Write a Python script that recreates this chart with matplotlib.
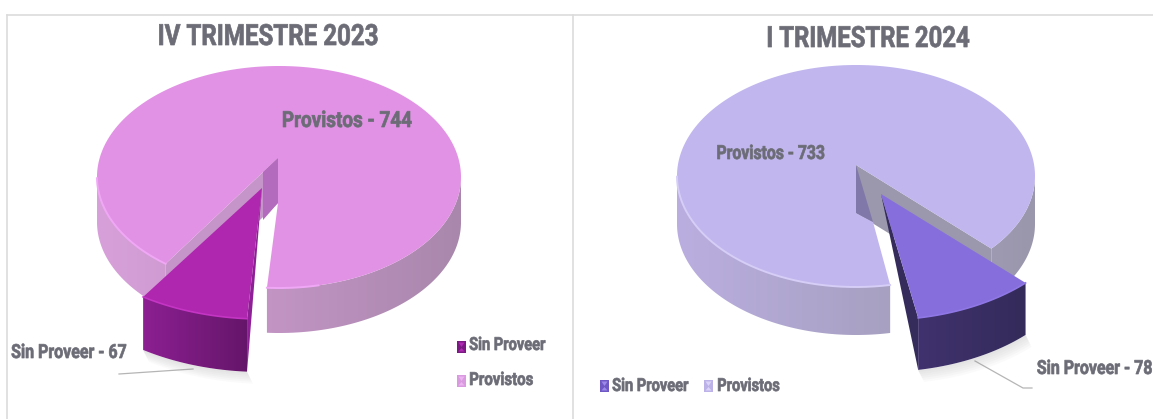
import numpy as np
import matplotlib
matplotlib.use('Agg')
import matplotlib.pyplot as plt
import matplotlib.patheffects as pe
from matplotlib.colors import to_rgb
from matplotlib.patches import Polygon, Rectangle
from matplotlib.transforms import Affine2D

# values from the chart
names = ["Sin Proveer", "Provistos"]
titles = ["IV TRIMESTRE 2023", "I TRIMESTRE 2024"]
q4_values = [67, 744]
q1_values = [78, 733]

plt.rcParams['font.family'] = ['Roboto', 'DejaVu Sans']
TEXT = '#6b6c76'

fig = plt.figure(figsize=(11.53, 4.19), dpi=100)
ax = fig.add_axes([0, 0, 1, 1])
ax.set_xlim(0, 1153)
ax.set_ylim(419, 0)
ax.axis('off')


class Narrow(pe.AbstractPathEffect):
	# squeezes the glyphs sideways, no condensed font is installed
	def __init__(self, k, frac, weight=0.5):
		super().__init__()
		self.k, self.frac, self.weight = k, frac, weight

	def draw_path(self, renderer, gc, tpath, affine, rgbFace=None):
		ext = tpath.get_extents()
		anchor = ext.x0 + self.frac * ext.width
		aff = Affine2D().translate(-anchor, 0).scale(self.k, 1).translate(anchor, 0) + affine
		gc0 = renderer.new_gc()
		gc0.copy_properties(gc)
		gc0.set_linewidth(self.weight)
		gc0.set_foreground(rgbFace)
		renderer.draw_path(gc0, tpath, aff, rgbFace)
		gc0.restore()


def label(x, y, s, size, k, ha='left'):
	frac = {'left': 0, 'center': 0.5, 'right': 1}[ha]
	t = ax.text(x, y, s, ha=ha, va='center', fontsize=size, fontweight='bold', color=TEXT, zorder=10)
	t.set_path_effects([Narrow(k, frac)])
	return t


def ell(cx, cy, rx, ry, deg):
	# deg is measured from straight down, positive goes towards the left
	t = np.radians(deg)
	return cx - rx * np.sin(t), cy + ry * np.cos(t)


def arc(cx, cy, rx, ry, a, b, n=200):
	x, y = ell(cx, cy, rx, ry, np.linspace(a, b, n))
	return np.column_stack([x, y])


def side(pts, depth, c_left, c_right, xmin, xmax, z):
	# wall under a rim, filled with a left to right gradient
	grad = np.linspace(to_rgb(c_left), to_rgb(c_right), 128).reshape(1, 128, 3)
	poly = Polygon(np.vstack([pts, pts[::-1] + [0, depth]]), transform=ax.transData, fc='none', ec='none')
	im = ax.imshow(grad, extent=(xmin, xmax, 419, 0), aspect='auto', zorder=z, interpolation='bilinear')
	im.set_clip_path(poly)


def soft_shadow(pts, depth, z):
	for k in range(6):
		off = 2 + k * 2
		shifted = pts + [off * 0.5, depth + off]
		poly = np.vstack([pts + [0, depth], shifted[::-1]])
		ax.add_patch(Polygon(poly, fc='#808080', ec='none', alpha=0.035, zorder=z))


def draw_pie(values, main, cut, s, colors):
	small, big = values
	span = small / (small + big) * 360
	cx, cy, rx, ry, depth = main['cx'], main['cy'], main['rx'], main['ry'], main['depth']
	A = np.array(cut['apex'], float)
	notch = np.array(cut['notch'], float)

	# provistos: the big slice goes the long way round from one gap edge to the other
	if s['dir'] > 0:
		gap_a, gap_b = main['gap'], main['gap'] + span + main['pad']
		rim = arc(cx, cy, rx, ry, gap_b, gap_a + 360, 500)
		face = np.vstack([A, rim, A + [0, depth]])
	else:
		gap_a, gap_b = -main['gap'], -main['gap'] - span - main['pad']
		rim = arc(cx, cy, rx, ry, gap_a, gap_b + 360, 500)
		face = np.vstack([A, A + [0, depth], notch, rim])
	B = np.array(ell(cx, cy, rx, ry, gap_b), float)

	# bottom rim, split in left and right parts
	low = rim[rim[:, 1] >= cy]
	split = np.where(np.diff(low[:, 0]) > 20)[0]
	parts = np.split(low, split + 1)
	for part in parts:
		side(part, depth, colors['side_l'], colors['side_r'], cx - rx, cx + rx, 2)

	# back wall of the gap
	ax.add_patch(Polygon([A, B, B + [0, depth], A + [0, depth]], fc=colors['wall'], ec='none', zorder=3))

	# top of the big slice
	ax.add_patch(Polygon(face, fc=colors['top'], ec='none', zorder=4))
	ax.add_patch(Polygon([A, A + [0, depth], notch, cut['inner']], fc=colors['inner'], ec='none', zorder=4.5))
	for part in parts:
		hl = part[part[:, 0] < cx + 40]
		ax.plot(hl[:, 0], hl[:, 1], color=colors['rim'], lw=1.4, zorder=4.6)

	# sin proveer: the small slice pulled out of the pie
	scx, scy = s['apex']
	srx, sry, sd = s['rx'], s['ry'], s['depth']
	a1 = s['start'] + s['dir'] * span
	srim = arc(scx, scy, srx, sry, s['start'], a1, 80)
	soft_shadow(srim, sd, 5)
	near = srim[0]
	side(srim, sd, colors['s_side_l'], colors['s_side_r'], srim[:, 0].min(), srim[:, 0].max(), 6)
	ax.add_patch(Polygon([(scx, scy), near, near + [0, sd]], fc=colors['s_edge'], ec='none', zorder=6))
	ax.add_patch(Polygon(np.vstack([(scx, scy), srim]), fc=colors['s_top'], ec='none', zorder=7))
	ax.plot(srim[:, 0], srim[:, 1], color=colors['s_rim'], lw=1.2, zorder=7.1)


def legend_box(x, y, c, c2):
	ax.add_patch(Rectangle((x, y), 9, 12, fc=c, ec='none', zorder=8))
	ax.add_patch(Polygon([(x + 1.5, y + 1.5), (x + 7.5, y + 1.5), (x + 4.5, y + 6)], fc=c2, ec='none', zorder=9))
	ax.add_patch(Polygon([(x + 1.5, y + 10.5), (x + 7.5, y + 10.5), (x + 4.5, y + 7)], fc=c2, ec='none', zorder=9))


# frame lines
for xs, ys in [((7, 1153), (15, 15)), ((7, 7), (15, 419)), ((573, 573), (15, 419))]:
	ax.plot(xs, ys, color='#dcdcdc', lw=1.2, zorder=1)

draw_pie(q4_values,
	dict(cx=279, cy=177, rx=182, ry=111, depth=45, gap=3.8, pad=5),
	dict(apex=(278, 158), notch=(263, 220), inner=(263, 172)),
	dict(apex=(262, 188), rx=214, ry=131, depth=53, start=4, dir=1),
	dict(top='#e192e4', side_l='#d8a0da', side_r='#a987ac', wall='#c594c8', inner='#b36bbd',
		rim='#f0a8f6', s_top='#ae27ae', s_side_l='#8c1f92', s_side_r='#65166a',
		s_edge='#8e1f96', s_rim='#c435c4'))

draw_pie(q1_values,
	dict(cx=856, cy=176, rx=179, ry=111, depth=48, gap=11, pad=3.5),
	dict(apex=(856, 165), notch=(873, 222), inner=(856, 165)),
	dict(apex=(881, 194), rx=204, ry=126, depth=52, start=-10.5, dir=-1),
	dict(top='#c1b6ee', side_l='#baaee0', side_r='#9a97ac', wall='#9b98ad', inner='#8078a8',
		rim='#d6cef6', s_top='#866fdc', s_side_l='#40326e', s_side_r='#342b5a',
		s_edge='#352c5b', s_rim='#8f78e6'))

# imshow moves the limits
ax.set_xlim(0, 1153)
ax.set_ylim(419, 0)

# titles
label(268, 37, titles[0], 21, 0.827, 'center')
label(868, 39, titles[1], 21, 0.82, 'center')

# data labels
label(347, 121, "%s - %d" % (names[1], q4_values[1]), 16, 0.85, 'center')
label(11, 353, "%s - %d" % (names[0], q4_values[0]), 14, 0.82)
label(771, 154, "%s - %d" % (names[1], q1_values[1]), 14, 0.81, 'center')
label(1153, 369, "%s - %d" % (names[0], q1_values[0]), 14, 0.82, 'right')

# leader lines
ax.plot([119, 193], [374, 369], color='#b5b5b5', lw=0.9, zorder=4)
ax.plot([975, 1023, 1032], [361, 388, 388], color='#b5b5b5', lw=0.9, zorder=4)

# legends
legend_box(457, 341, '#7a1a82', '#b02ab4')
label(469, 345, names[0], 13, 0.81)
legend_box(457, 375, '#d99adf', '#ecb4f0')
label(469, 380, names[1], 13, 0.83)
legend_box(600, 380, '#6f58c4', '#9c88ea')
label(612, 386, names[0], 13, 0.81)
legend_box(704, 380, '#bdb2e8', '#dcd4f8')
label(717, 386, names[1], 13, 0.81)

plt.savefig('out.png', dpi=100)
